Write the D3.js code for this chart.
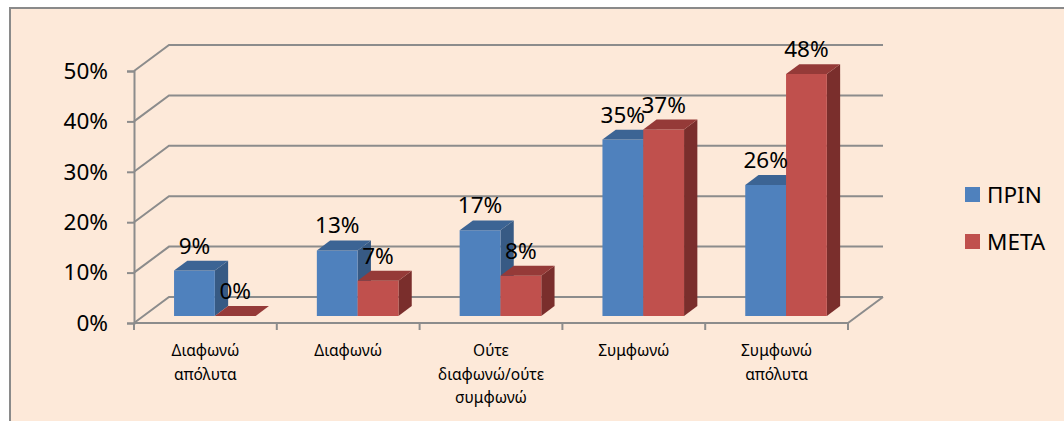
<!DOCTYPE html>
<html>
<head>
<meta charset="utf-8">
<script src="https://cdn.jsdelivr.net/npm/d3@7"></script>
<style>
  body { margin: 0; background: #fff; }
  svg { display: block; font-family: "Noto Sans", sans-serif; }
</style>
</head>
<body>
<svg id="chart" width="1064" height="421"></svg>
<script>
// data
var categories = ["Διαφωνώ\nαπόλυτα", "Διαφωνώ", "Ούτε\nδιαφωνώ/ούτε\nσυμφωνώ", "Συμφωνώ", "Συμφωνώ\nαπόλυτα"]
var seriesNames = ["ΠΡΙΝ", "ΜΕΤΑ"]
var before = [0.09, 0.13, 0.17, 0.35, 0.26]
var after  = [0.00, 0.07, 0.08, 0.37, 0.48]
var yTicks = [0, 0.1, 0.2, 0.3, 0.4, 0.5]

var colors = {
  "ΠΡΙΝ": { front: "#4f81bd", top: "#3c6494", side: "#375a84" },
  "ΜΕΤΑ": { front: "#c0504d", top: "#953a38", side: "#7a2e2c" }
}

var svg = d3.select("#chart")

// chart area background + border
svg.append("rect")
   .attr("x", 10).attr("y", 8)
   .attr("width", 1100).attr("height", 450)
   .attr("fill", "#fde9d9")
   .attr("stroke", "#8a8a8a")
   .attr("stroke-width", 2)

var plotLeft = 134, plotRight = 848, plotBottom = 323, plotTop = 71
var DX = 35, DY = -26 // full depth offset of the back wall

var x = d3.scaleBand().domain(categories).range([plotLeft, plotRight])
var xs = d3.scaleBand().domain(seriesNames).range([0, x.bandwidth()]).paddingOuter(0.75)
var y = d3.scaleLinear().domain([0, 0.5]).range([plotBottom, plotTop])

// project a front-plane point to a given depth (0 front .. 1 back)
function P(px, py, t) { return [px + DX * t, py + DY * t] }

var grid = svg.append("g")
  .attr("stroke", "#8c8c8c").attr("stroke-width", 2).attr("fill", "none")

// back wall gridlines + left side wall lines
yTicks.forEach(function (v) {
  var a = P(plotLeft, y(v), 0), b = P(plotLeft, y(v), 1), c = P(plotRight, y(v), 1)
  grid.append("path").attr("d", d3.line()([a, b, c]))
})
// right floor edge
grid.append("path").attr("d", d3.line()([P(plotRight, y(0), 0), P(plotRight, y(0), 1)]))

// bars
var t0 = 0.27, t1 = 0.65
var rows = []
categories.forEach(function (c, i) {
  rows.push({ cat: c, s: "ΠΡΙΝ", v: before[i] })
  rows.push({ cat: c, s: "ΜΕΤΑ", v: after[i] })
})

var line = d3.line()
var bars = svg.append("g")
rows.forEach(function (d) {
  var x0 = x(d.cat) + xs(d.s), x1 = x0 + xs.bandwidth()
  var yb = y(0), yt = y(d.v)
  var col = colors[d.s]
  var g = bars.append("g")
  // side face
  g.append("path")
   .attr("d", line([P(x1, yb, t0), P(x1, yb, t1), P(x1, yt, t1), P(x1, yt, t0)]) + "Z")
   .attr("fill", col.side)
  // front face
  g.append("path")
   .attr("d", line([P(x0, yb, t0), P(x1, yb, t0), P(x1, yt, t0), P(x0, yt, t0)]) + "Z")
   .attr("fill", col.front)
  // top face
  g.append("path")
   .attr("d", line([P(x0, yt, t0), P(x1, yt, t0), P(x1, yt, t1), P(x0, yt, t1)]) + "Z")
   .attr("fill", col.top)
  d.labelX = P((x0 + x1) / 2, yt, t0)[0]
  d.labelY = P((x0 + x1) / 2, yt, t0)[1] - 17
})

// y axis
var yAxis = svg.append("g")
  .attr("transform", "translate(" + plotLeft + ",0)")
  .call(d3.axisLeft(y).tickValues(yTicks).tickFormat(d3.format(".0%")).tickSize(7).tickPadding(19))
yAxis.select(".domain").attr("stroke", "#8c8c8c").attr("stroke-width", 2)
yAxis.selectAll(".tick line").attr("stroke", "#8c8c8c").attr("stroke-width", 2)
yAxis.selectAll(".tick text").attr("font-size", 22.5).attr("fill", "#000")
  .attr("font-family", "Noto Sans")

// x axis: floor front edge, ticks at category boundaries
var xAxis = svg.append("g").attr("stroke", "#8c8c8c").attr("stroke-width", 2)
xAxis.append("path").attr("d", line([[plotLeft, plotBottom], [plotRight, plotBottom]]))
var bounds = categories.map(function (c) { return x(c) }).concat([plotRight])
bounds.forEach(function (b) {
  xAxis.append("path").attr("d", line([[b, plotBottom], [b, plotBottom + 7]]))
})

// category labels
categories.forEach(function (c) {
  var t = svg.append("text")
    .attr("text-anchor", "middle")
    .attr("font-size", 15.5)
    .attr("fill", "#000")
    .attr("transform", "translate(" + (x(c) + x.bandwidth() / 2) + ",356)")
  c.split("\n").forEach(function (s, k) {
    t.append("tspan").attr("x", 0).attr("y", k * 23.5).text(s)
  })
})

// value labels
svg.append("g").selectAll("text")
  .data(rows)
  .join("text")
  .attr("x", function (d) { return d.labelX })
  .attr("y", function (d) { return d.labelY })
  .attr("text-anchor", "middle")
  .attr("font-size", 22.5)
  .attr("fill", "#000")
  .text(function (d) { return d3.format(".0%")(d.v) })

// legend
var legend = svg.append("g").attr("transform", "translate(965,187)")
seriesNames.forEach(function (s, i) {
  var g = legend.append("g").attr("transform", "translate(0," + (i * 47) + ")")
  g.append("rect").attr("width", 15).attr("height", 15).attr("fill", colors[s].front)
  g.append("text").attr("x", 22).attr("y", 15.5).attr("font-size", 22.5).attr("fill", "#000").text(s)
})
</script>
</body>
</html>
